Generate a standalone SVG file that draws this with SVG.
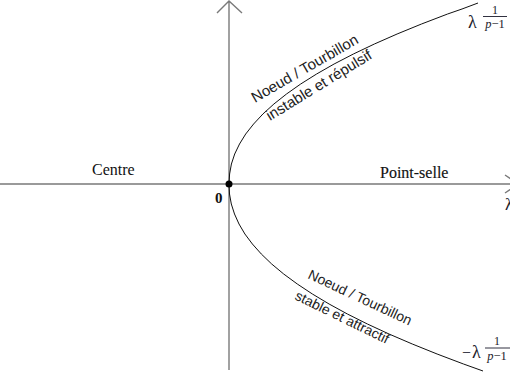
<svg xmlns="http://www.w3.org/2000/svg" width="510" height="376" viewBox="0 0 510 376">
<style>
.axis{stroke:#7a7a7a;stroke-width:1.4;fill:none}
.curve{stroke:#111;stroke-width:1;fill:none}
.lab{font-family:"Liberation Serif","Times New Roman",serif;fill:#111}
.sans{font-family:"Liberation Sans",Arial,sans-serif;fill:#222}
.math{font-family:"Liberation Serif","DejaVu Serif",serif;fill:#1a1a2a}
</style>
<rect width="510" height="376" fill="#fff"/>
<g id="connectors">
<path class="axis" d="M0,184 H518 M505,175 L518,184 L505,193"/>
<path class="axis" d="M229,370 V1 M217,13 L229,1 L242,13"/>
<polyline class="curve" points="229,184 229.6,174 231.4,164 234.7,154 239.5,144 245.7,134 253.6,124 262.9,114 273.9,104 286.5,94 300.7,84 316.6,74 334.1,64 353.4,54 374.4,44 397.1,34 421.5,24 447.6,14 462,9 478,3"/>
<polyline class="curve" points="229,184 229.5,194 231.3,204 234.5,214 239,224 244.9,234 252.4,244 261.3,254 271.7,264 283.7,274 297.3,284 312.4,294 329.1,304 347.4,314 367.4,324 389,334 412.3,344 437.1,354 463.5,364 483,371"/>
</g>
<g id="origin">
<circle cx="229" cy="184" r="3.5" fill="#000"/>
<text class="lab" x="215" y="203" font-size="15" font-weight="bold">0</text>
</g>
<g id="centre"><text class="lab" x="92" y="175" font-size="16">Centre</text></g>
<g id="point-selle"><text class="lab" x="380" y="178" font-size="16" stroke="#111" stroke-width="0.15">Point-selle</text></g>
<g id="axis-label"><text class="math" x="505" y="210" font-size="17">λ</text></g>
<g id="branch-top">
<text class="sans" font-size="15" transform="translate(255,103) rotate(-30)">Noeud / Tourbillon</text>
<text class="sans" font-size="15" transform="translate(270,121) rotate(-31.5)">instable et répulsif</text>
</g>
<g id="branch-bottom">
<text class="sans" font-size="14" transform="translate(307,278) rotate(25)">Noeud / Tourbillon</text>
<text class="sans" font-size="14" transform="translate(294,299) rotate(26)">stable et attractif</text>
</g>
<g id="label-top">
<text class="math" x="468" y="28" font-size="18">λ</text>
<text class="math" x="495" y="13.5" font-size="12" text-anchor="middle">1</text>
<line x1="483" y1="16.5" x2="507" y2="16.5" stroke="#1a1a2a" stroke-width="0.9"/>
<text class="math" x="495" y="28" font-size="12.5" text-anchor="middle"><tspan font-style="italic">p</tspan>−1</text>
</g>
<g id="label-bottom">
<text class="math" x="462" y="358" font-size="16">−</text>
<text class="math" x="472" y="358" font-size="18">λ</text>
<text class="math" x="497" y="344.5" font-size="12" text-anchor="middle">1</text>
<line x1="485" y1="348" x2="510" y2="348" stroke="#1a1a2a" stroke-width="0.9"/>
<text class="math" x="497" y="360" font-size="12.5" text-anchor="middle"><tspan font-style="italic">p</tspan>−1</text>
</g>
</svg>
